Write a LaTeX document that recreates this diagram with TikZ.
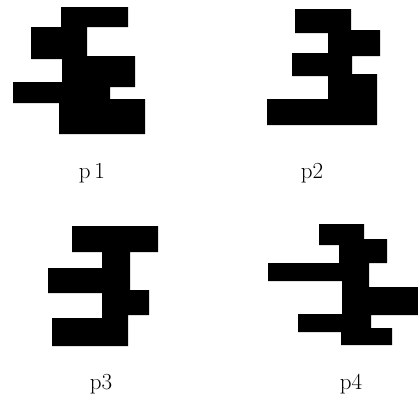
\documentclass[tikz,border=0pt]{standalone}
\begin{document}
\begin{tikzpicture}[x=1pt,y=-1pt,
  blob/.style={fill=black,draw=none},
  lbl/.style={anchor=base,inner sep=0pt,font=\fontsize{23}{26}\selectfont}]
\useasboundingbox (0,0) rectangle (418,399);
% p1
\fill[blob] (61,7) -- (128,7) -- (128,27) -- (87,27) -- (87,56) -- (135,56) -- (135,87) -- (110,87) -- (110,99) -- (145,99) -- (145,134) -- (59,134) -- (59,103) -- (13,103) -- (13,82) -- (62,82) -- (62,59) -- (31,59) -- (31,27) -- (61,27) -- cycle;
% p2
\fill[blob] (295,9) -- (351,9) -- (351,30) -- (380,30) -- (380,56) -- (352,56) -- (352,74) -- (377,74) -- (377,125) -- (267,125) -- (267,99) -- (328,99) -- (328,76) -- (292,76) -- (292,53) -- (328,53) -- (328,33) -- (295,33) -- cycle;
% p3
\fill[blob] (72,226) -- (158,226) -- (158,252) -- (130,252) -- (130,290) -- (149,290) -- (149,315) -- (128,315) -- (128,346) -- (52,346) -- (52,318) -- (102,318) -- (102,293) -- (48,293) -- (48,268) -- (102,268) -- (102,252) -- (72,252) -- cycle;
% p4
\fill[blob] (319,224) -- (364,224) -- (364,239) -- (387,239) -- (387,263) -- (369,263) -- (369,287) -- (418,287) -- (418,315) -- (371,315) -- (371,328) -- (392,328) -- (392,345) -- (341,345) -- (341,332) -- (298,332) -- (298,314) -- (342,314) -- (342,281) -- (268,281) -- (268,263) -- (339,263) -- (339,245) -- (319,245) -- cycle;
% labels
\node[lbl] (l1) at (92,178) {p\,1};
\node[lbl] (l2) at (312,178) {p2};
\node[lbl] (l3) at (101,389) {p3};
\node[lbl] (l4) at (351,389) {p4};
\end{tikzpicture}
\end{document}
